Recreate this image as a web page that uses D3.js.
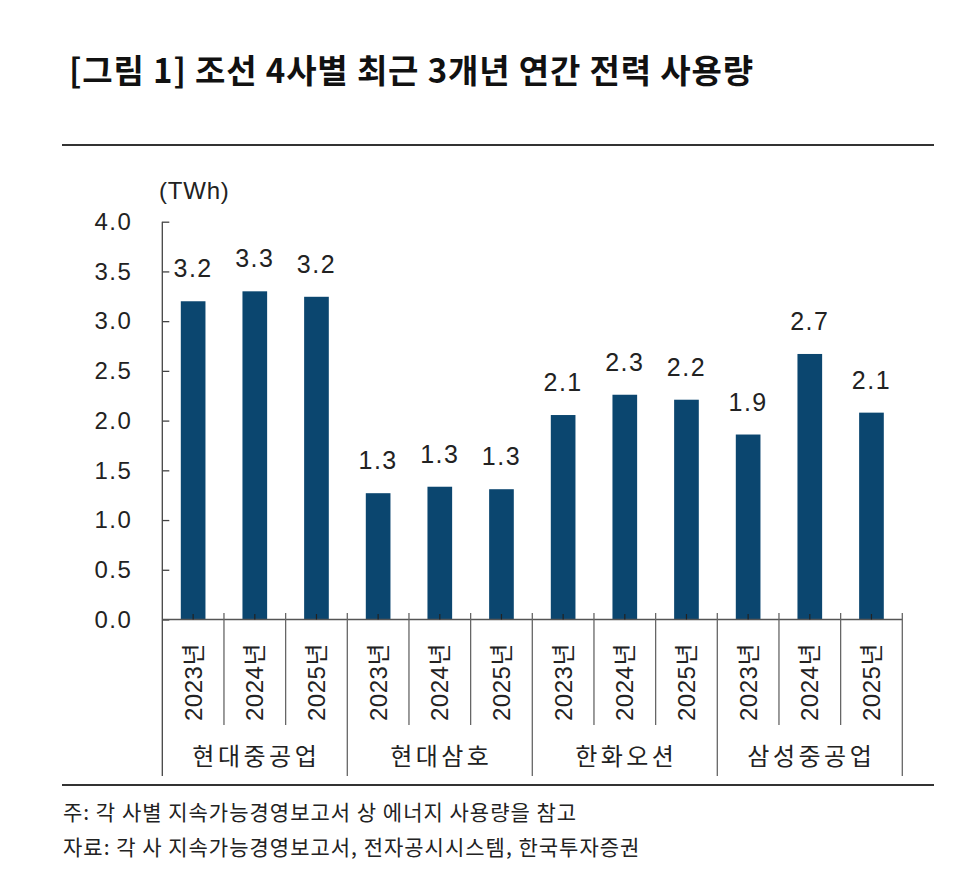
<!DOCTYPE html>
<html>
<head>
<meta charset="utf-8">
<script src="https://cdn.jsdelivr.net/npm/d3@7"></script>
<style>
  html, body { margin: 0; padding: 0; background: #fff; }
  svg { display: block; }
  text { font-family: "Liberation Sans", Arial, "Noto Sans CJK KR", sans-serif; fill: #222; }
  .kr { font-family: "Noto Sans CJK KR", "Liberation Sans", sans-serif; }
</style>
</head>
<body>
<svg id="chart" width="972" height="885"></svg>
<script>
// ---- data ----
const companies = ["현대중공업", "현대삼호", "한화오션", "삼성중공업"];
const years = ["2023년", "2024년", "2025년"];
const values = {
  "현대중공업": [3.20, 3.30, 3.245],
  "현대삼호":   [1.27, 1.335, 1.31],
  "한화오션":   [2.056, 2.26, 2.21],
  "삼성중공업": [1.86, 2.67, 2.08]
};
const yTicks = [0, 0.5, 1.0, 1.5, 2.0, 2.5, 3.0, 3.5, 4.0];
const titleText = "[그림 1] 조선 4사별 최근 3개년 연간 전력 사용량";
const unitText = "(TWh)";
const notes = [
  "주: 각 사별 지속가능경영보고서 상 에너지 사용량을 참고",
  "자료: 각 사 지속가능경영보고서, 전자공시시스템, 한국투자증권"
];

// flatten into rows
const rows = [];
companies.forEach((c, gi) => years.forEach((yr, yi) => rows.push({company: c, year: yr, gi, yi, key: c + "|" + yr, value: values[c][yi]})));

const svg = d3.select("#chart");
const left = 162.3, right = 902.3, y0 = 619.5, yTop = 221.7;
const axisBottom = 776, yearSepBottom = 725, sepTop = 613;

const x = d3.scaleBand().domain(rows.map(d => d.key)).range([left, right]).paddingInner(0).paddingOuter(0);
const y = d3.scaleLinear().domain([0, 4]).range([y0, yTop]);
const barW = x.bandwidth() * 0.4;
const fmt = d3.format(".1f");

// title
svg.append("text").attr("class", "kr").attr("x", 69).attr("y", 83)
  .attr("font-size", 33).attr("font-weight", 700).style("letter-spacing", "0.85px")
  .style("fill", "#111").text(titleText);
svg.append("line").attr("x1", 62).attr("x2", 934).attr("y1", 145).attr("y2", 145)
  .attr("stroke", "#333").attr("stroke-width", 2);

// unit
svg.append("text").attr("x", 159).attr("y", 199).attr("font-size", 24)
  .style("letter-spacing", "0.8px").text(unitText);

// bars
svg.append("g").selectAll("rect").data(rows).join("rect")
  .attr("x", d => x(d.key) + (x.bandwidth() - barW) / 2)
  .attr("width", barW)
  .attr("y", d => y(d.value))
  .attr("height", d => y(0) - y(d.value))
  .attr("fill", "#0b466f");

// value labels
svg.append("g").selectAll("text").data(rows).join("text")
  .attr("x", d => x(d.key) + x.bandwidth() / 2)
  .attr("y", d => y(d.value) - 24)
  .attr("text-anchor", "middle")
  .attr("font-size", 25)
  .style("letter-spacing", "1.5px")
  .text(d => fmt(d.value));

// y axis
const yAxis = d3.axisLeft(y).tickValues(yTicks).tickFormat(d3.format(".1f")).tickSize(-7).tickPadding(30);
const gy = svg.append("g").attr("transform", `translate(${left},0)`).call(yAxis);
gy.select(".domain").remove();
gy.selectAll(".tick line").attr("stroke", "#444").attr("stroke-width", 1.3);
gy.selectAll(".tick text").attr("font-size", 24).style("letter-spacing", "1.5px")
  .style("font-family", "'Liberation Sans', Arial, sans-serif").style("fill", "#222");
svg.append("line").attr("x1", left).attr("x2", left).attr("y1", yTop).attr("y2", axisBottom)
  .attr("stroke", "#444").attr("stroke-width", 1.3);

// x axis line
svg.append("line").attr("x1", left).attr("x2", right).attr("y1", y0).attr("y2", y0)
  .attr("stroke", "#555").attr("stroke-width", 1.6);

// center ticks
svg.append("g").selectAll("line").data(rows).join("line")
  .attr("x1", d => x(d.key) + x.bandwidth() / 2).attr("x2", d => x(d.key) + x.bandwidth() / 2)
  .attr("y1", y0 - 5.5).attr("y2", y0)
  .attr("stroke", "#222").attr("stroke-width", 1.2);

// separators
const seps = d3.range(1, rows.length + 1).map(i => ({i, pos: i === rows.length ? right : x(rows[i].key)}));
svg.append("g").selectAll("line").data(seps).join("line")
  .attr("x1", d => d.pos).attr("x2", d => d.pos)
  .attr("y1", sepTop)
  .attr("y2", d => d.i % 3 === 0 ? axisBottom : yearSepBottom)
  .attr("stroke", "#666").attr("stroke-width", 1.3);

// year labels (rotated)
svg.append("g").selectAll("text").data(rows).join("text")
  .attr("transform", d => `translate(${x(d.key) + x.bandwidth() / 2},721) rotate(-90)`)
  .attr("text-anchor", "start")
  .attr("dominant-baseline", "central")
  .attr("font-size", 24)
  .style("letter-spacing", "0.5px")
  .text(d => d.year);

// group labels
svg.append("g").selectAll("text").data(companies).join("text")
  .attr("x", (c, gi) => (x(rows[gi * 3].key) + x(rows[gi * 3 + 2].key) + x.bandwidth()) / 2 + 1.5)
  .attr("y", 765)
  .attr("text-anchor", "middle")
  .attr("font-size", 24)
  .style("letter-spacing", "3.5px")
  .style("font-family", "'Noto Sans CJK KR', sans-serif")
  .text(c => c);

// bottom rule
svg.append("line").attr("x1", 62).attr("x2", 934).attr("y1", 785).attr("y2", 785)
  .attr("stroke", "#333").attr("stroke-width", 2);

// notes
svg.append("g").selectAll("text").data(notes).join("text")
  .attr("class", "kr")
  .attr("x", 63).attr("y", (d, i) => 820 + i * 35)
  .attr("font-size", 21)
  .style("letter-spacing", "1px")
  .style("fill", "#222")
  .text(d => d);
</script>
</body>
</html>
